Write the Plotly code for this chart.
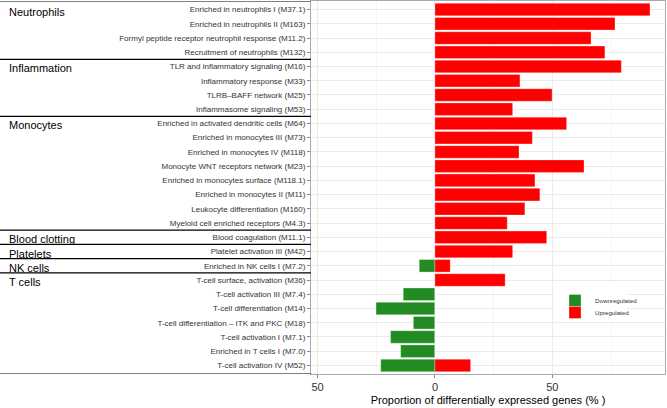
import plotly.graph_objects as go

# module names, top to bottom
modules = [
    "Enriched in neutrophils I (M37.1)",
    "Enriched in neutrophils II (M163)",
    "Formyl peptide receptor neutrophil response (M11.2)",
    "Recruitment of neutrophils (M132)",
    "TLR and inflammatory signaling (M16)",
    "Inflammatory response (M33)",
    "TLRB\u2013BAFF network (M25)",
    "Inflammasome signaling (M53)",
    "Enriched in activated dendritic cells (M64)",
    "Enriched in monocytes III (M73)",
    "Enriched in monocytes IV (M118)",
    "Monocyte WNT receptors network (M23)",
    "Enriched in monocytes surface (M118.1)",
    "Enriched in monocytes II (M11)",
    "Leukocyte differentiation (M160)",
    "Myeloid cell enriched receptors (M4.3)",
    "Blood coagulation (M11.1)",
    "Platelet activation III (M42)",
    "Enriched in NK cells I (M7.2)",
    "T-cell surface, activation (M36)",
    "T-cell activation III (M7.4)",
    "T-cell differentiation (M14)",
    "T-cell differentiation \u2013 ITK and PKC (M18)",
    "T-cell activation I (M7.1)",
    "Enriched in T cells I (M7.0)",
    "T-cell activation IV (M52)",
]

upregulated = [91.6, 76.7, 66.5, 72.4, 79.4, 36.2, 49.9, 33.1, 56.1, 41.5,
               35.8, 63.5, 42.6, 44.7, 38.3, 30.8, 47.6, 33.1, 6.5, 29.9,
               0, 0, 0, 0, 0, 15.2]
downregulated = [0, 0, 0, 0, 0, 0, 0, 0, 0, 0,
                 0, 0, 0, 0, 0, 0, 0, 0, -6.7, 0,
                 -13.5, -25.1, -9.2, -18.9, -14.6, -23.1]

# group name and index of its first module
groups = ["Neutrophils", "Inflammation", "Monocytes", "Blood clotting",
          "Platelets", "NK cells", "T cells"]
group_start = [0, 4, 8, 16, 17, 18, 19]

x_ticks = [-50, 0, 50]
x_ticktext = ["50", "0", "50"]

W, H = 667, 408
ML, MR, MT, MB = 311, 2, 1, 34
pw = W - ML - MR
ph = H - MT - MB
left_paper = -ML / pw

font = "Liberation Sans, Arial, sans-serif"

fig = go.Figure()
fig.add_bar(y=modules, x=downregulated, orientation="h", name="Downregulated",
            marker=dict(color="#228B22", line=dict(color="rgba(255,255,255,0.5)", width=0.6)),
            width=0.88, legend="legend")
fig.add_bar(y=modules, x=upregulated, orientation="h", name="Upregulated",
            marker=dict(color="#FF0000", line=dict(color="rgba(255,255,255,0.5)", width=0.6)),
            width=0.88, legend="legend2")

n = len(modules)
# separator lines between groups in the left label area
bounds = [-0.6] + [s - 0.5 for s in group_start[1:]] + [n - 0.4]
shapes = []
for b in bounds:
    shapes.append(dict(type="line", xref="paper", yref="y", x0=left_paper, x1=0,
                       y0=b, y1=b, line=dict(color="black", width=1.2)))

annotations = []
for g, s in zip(groups, group_start):
    annotations.append(dict(text=g, xref="paper", yref="y", x=left_paper + 7 / pw,
                            y=s, xanchor="left", yanchor="middle", yshift=-2,
                            showarrow=False, font=dict(size=11, color="black", family=font)))

leg = dict(xanchor="left", yanchor="top", bgcolor="rgba(0,0,0,0)",
           font=dict(size=6.2, color="#333333"), itemwidth=30)

fig.update_layout(
    width=W, height=H,
    margin=dict(l=ML, r=MR, t=MT, b=MB),
    barmode="relative",
    bargap=0.1,
    plot_bgcolor="white", paper_bgcolor="white",
    font=dict(family=font, color="#333333"),
    shapes=shapes + [dict(type="rect", xref="paper", yref="paper",
                          x0=(553 - ML) / pw, x1=(627 - ML) / pw,
                          y0=(374 - 322) / ph, y1=(374 - 283) / ph,
                          fillcolor="white", line=dict(width=0), layer="above")],
    annotations=annotations,
    showlegend=True,
    legend=dict(leg, x=(555 - ML) / pw, y=(374 - 286) / ph),
    legend2=dict(leg, x=(555 - ML) / pw, y=(374 - 298) / ph),
    xaxis=dict(range=[-52.8, 98], tickvals=x_ticks, ticktext=x_ticktext,
               showgrid=True, gridcolor="#EBEBEB", gridwidth=1, zeroline=False,
               minor=dict(tickvals=[-25, 25, 75], showgrid=True, gridcolor="#F4F4F4", gridwidth=0.6),
               ticks="outside", ticklen=3, tickcolor="#888888",
               showline=True, linecolor="#AAAAAA", linewidth=1, mirror=True,
               tickfont=dict(size=11, color="#333333"),
               title=dict(text="Proportion of differentially expressed genes (% )",
                          font=dict(size=11, color="black"), standoff=4)),
    yaxis=dict(categoryorder="array", categoryarray=modules,
               range=[n - 0.4, -0.6],
               showgrid=True, gridcolor="#EBEBEB", gridwidth=1,
               ticks="outside", ticklen=3, tickcolor="#888888",
               showline=True, linecolor="#AAAAAA", linewidth=1, mirror=True,
               tickfont=dict(size=8, color="#333333")),
)

fig.write_html("out.html", config={"displayModeBar": False},
               post_script="document.body.style.margin='0';")
